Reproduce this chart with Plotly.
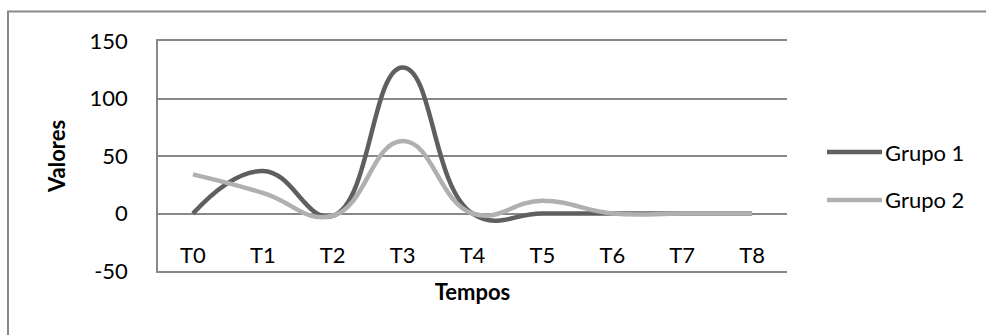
import plotly.graph_objects as go

# Chart data
tempos = ["T0", "T1", "T2", "T3", "T4", "T5", "T6", "T7", "T8"]
grupo_1 = [0, 37, -2, 127, 0, 0, 0, 0, 0]
grupo_2 = [34, 18, -2, 63, 0, 11, 0, 0, 0]
series_names = ["Grupo 1", "Grupo 2"]
series_colors = ["#5f5f5f", "#b0b0b0"]
y_ticks = [-50, 0, 50, 100, 150]
y_tick_text = ["-50", "0", "50", "100", "150"]

FONT = "Lato"
GRID = "#888888"
FS = 22

fig = go.Figure()
for name, vals, color in zip(series_names, [grupo_1, grupo_2], series_colors):
    fig.add_trace(go.Scatter(
        x=tempos, y=vals, name=name, mode="lines",
        line=dict(color=color, width=4.5, shape="spline", smoothing=1.3),
        showlegend=False,
    ))

# Legend drawn as line keys with text labels at the right of the plot
legend_y = [0.517, 0.309]
for name, color, yk in zip(series_names, series_colors, legend_y):
    fig.add_shape(type="line", xref="paper", yref="paper",
                  x0=1.0636, x1=1.151, y0=yk, y1=yk,
                  line=dict(color=color, width=4.5))
    fig.add_annotation(xref="paper", yref="paper", x=1.153, y=yk,
                       text=name, showarrow=False, xanchor="left", yanchor="middle",
                       font=dict(family=FONT, size=FS, color="#000000"))

# Outer chart border
fig.add_shape(type="rect", xref="paper", yref="paper",
              x0=-0.2385, x1=1.33, y0=-0.4, y1=1.1285,
              line=dict(color=GRID, width=2), fillcolor="rgba(0,0,0,0)")

fig.update_layout(
    width=986, height=335,
    margin=dict(l=158, r=199, t=41, b=64),
    paper_bgcolor="white", plot_bgcolor="white",
    font=dict(family=FONT, size=FS, color="#000000"),
    xaxis=dict(
        type="category", range=[-0.5, 8.5],
        showgrid=False, zeroline=False, ticks="",
        showline=True, mirror=True, linecolor=GRID, linewidth=1.5,
        ticklabelstandoff=-36,
        tickfont=dict(family=FONT, size=FS),
        title=dict(text="<b>Tempos</b>", font=dict(family=FONT, size=FS), standoff=17),
    ),
    yaxis=dict(
        range=[-50, 150], tickvals=y_ticks, ticktext=y_tick_text,
        showgrid=True, gridcolor=GRID, gridwidth=1.5,
        zeroline=False, showline=True, linecolor=GRID, linewidth=1.5,
        ticks="", ticklabelstandoff=24,
        tickfont=dict(family=FONT, size=FS),
        title=dict(text="<b>Valores</b>", font=dict(family=FONT, size=FS), standoff=18),
    ),
)

fig.write_html("out.html")
